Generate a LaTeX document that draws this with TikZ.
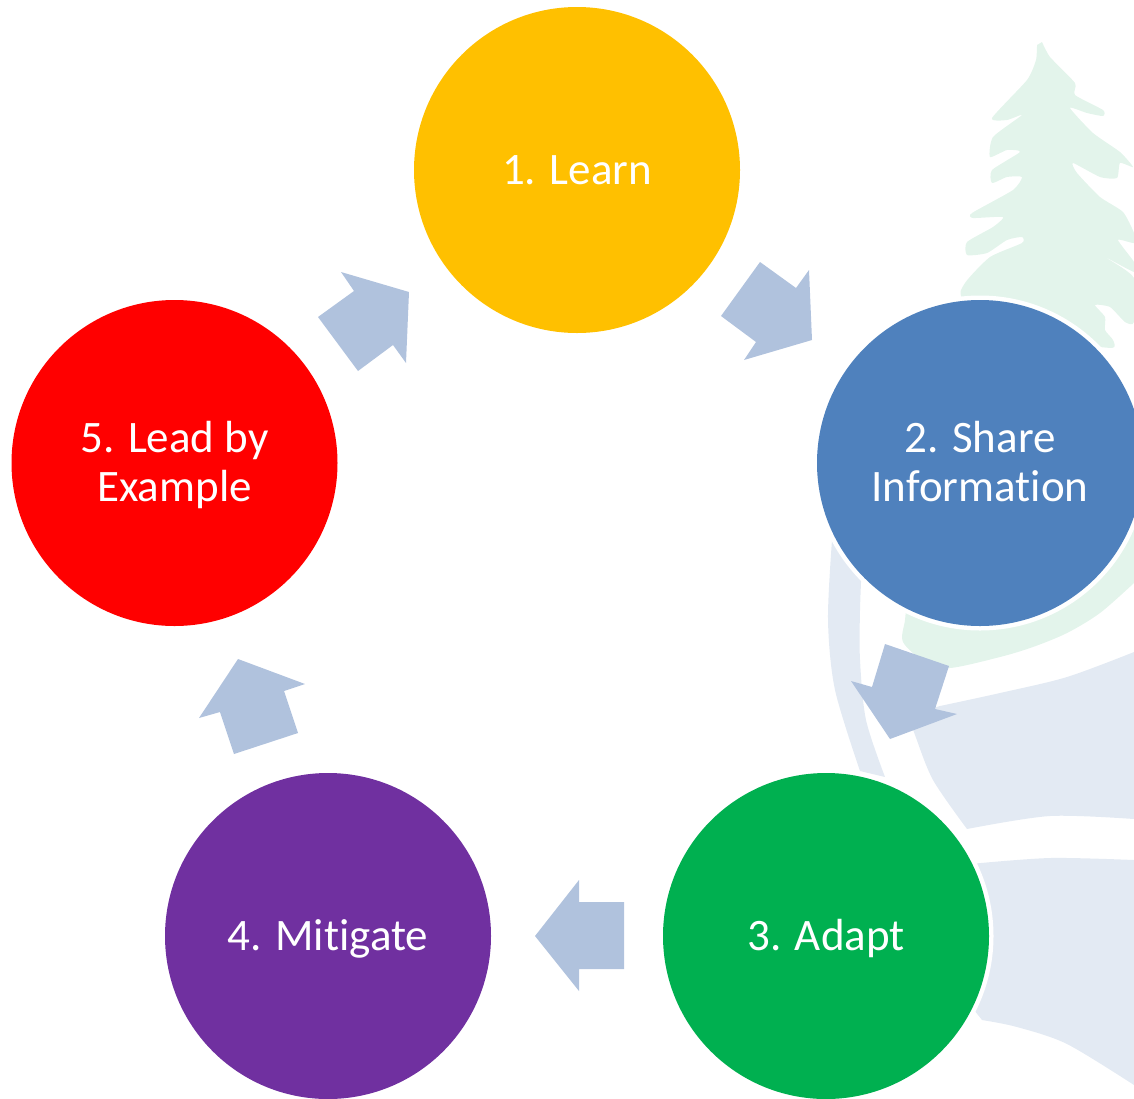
\documentclass[tikz,border=0pt]{standalone}
\usepackage{fontspec}
\setmainfont[Ligatures=NoCommon]{Carlito}
\definecolor{cYellow}{HTML}{FFC000}
\definecolor{cBlue}{HTML}{4F81BD}
\definecolor{cGreen}{HTML}{00B050}
\definecolor{cPurple}{HTML}{7030A0}
\definecolor{cRed}{HTML}{FF0000}
\definecolor{cArrow}{HTML}{B0C2DD}
\definecolor{cTree}{HTML}{E3F4EB}
\definecolor{cPale}{HTML}{E3EAF3}
\newcommand{\linestrut}{\rule[-10.5pt]{0pt}{49pt}}
\tikzset{
  stage/.style={circle,minimum size=326pt,inner sep=0pt,text=white,align=center,
    font=\fontsize{45}{49}\selectfont},
  halo/.style={draw=white,line width=5pt},
  blockarrow/.style={fill=cArrow,draw=none},
}
\begin{document}
\begin{tikzpicture}[x=1pt,y=-1pt]
\useasboundingbox (0,0) rectangle (1134,1098);
\clip (0,0) rectangle (1134,1098);
% faded background emblem
\fill[cTree] plot[smooth,tension=0.35] coordinates {(1042,42)(1050,57)(1075,83)(1075,95)(1103,110)(1103,116)(1087,113)(1070,108)(1093,133)(1120,152)(1133,167)(1120,163)(1117,178)(1100,177)(1073,163)(1077,173)(1100,197)(1123,212)(1134,233)(1134,243)(1118,240)(1134,262)(1134,272)(1105,257)(1134,278)(1134,322)(1125,322)(1110,307)(1095,305)(1105,317)(1105,330)(1113,340)(1112,348)(1060,340)(965,300)(965,283)(990,257)(1022,243)(1022,237)(1007,240)(987,253)(967,255)(967,242)(993,227)(1003,217)(973,218)(972,213)(1013,190)(1022,177)(1007,177)(992,183)(992,170)(1020,152)(1007,150)(990,157)(993,137)(1022,115)(1007,120)(992,118)(1027,80)(1036,60)(1037,45)} -- cycle;
\fill[cTree] plot[smooth] coordinates {(907,600)(905,620)(903,642)(925,662)(950,668)(1000,657)(1033,647)(1067,633)(1100,613)(1134,583)} -- (1134,500) -- (1000,500) -- cycle;
\fill[cPale] plot[smooth] coordinates {(832,540)(828,620)(835,690)(860,771)} -- (885,777) -- plot[smooth] coordinates {(885,777)(866,720)(860,660)(860,610)(862,560)} -- cycle;
\fill[cPale] plot[smooth] coordinates {(940,706)(1000,693)(1067,677)(1134,652)} -- (1134,819) -- plot[smooth] coordinates {(1134,819)(1050,816)(967,829)} -- plot[smooth] coordinates {(967,829)(933,780)(915,735)(908,715)} -- cycle;
\fill[cPale] plot[smooth] coordinates {(970,864)(1050,858)(1134,860)} -- (1134,1085) -- plot[smooth] coordinates {(1134,1085)(1067,1044)(1017,1027)(982,1020)} -- (970,1005) -- cycle;
% circles
\foreach \cx/\cy in {980/463,826/936}{\draw[halo] (\cx,\cy) circle[radius=165pt];}
\node[stage,fill=cYellow] (learn) at (577,170) {\linestrut 1. Learn};
\node[stage,fill=cBlue] (share) at (980,463) {\linestrut 2. Share\\\linestrut Information};
\node[stage,fill=cGreen] (adapt) at (826,936) {\linestrut 3. Adapt};
\node[stage,fill=cPurple] (mitigate) at (328,936) {\linestrut 4. Mitigate};
\node[stage,fill=cRed] (lead) at (174.5,463) {\linestrut 5. Lead by\\\linestrut Example};
% block arrows
\fill[blockarrow] (760,262)--(796,288)--(809,270)--(812,340)--(744,360)--(756,342)--(721,316)--cycle;
\fill[blockarrow] (885,644)--(949,666)--(935,709)--(957,714)--(890,739)--(851,681)--(872,687)--cycle;
\fill[blockarrow] (535,936)--(579,880)--(579,902)--(624,902)--(624,969)--(579,969)--(579,991)--cycle;
\fill[blockarrow] (238,659)--(305,684)--(284,691)--(298,733)--(234,754)--(220,712)--(199,718)--cycle;
\fill[blockarrow] (341,272)--(409,292)--(406,363)--(393,345)--(358,371)--(318,317)--(354,291)--cycle;
\end{tikzpicture}
\end{document}
